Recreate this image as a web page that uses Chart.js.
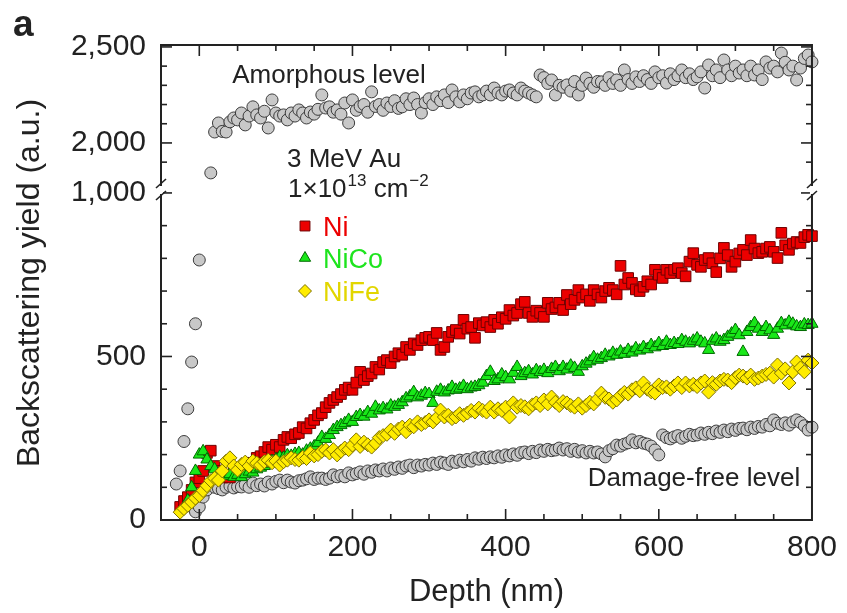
<!DOCTYPE html>
<html>
<head>
<meta charset="utf-8">
<title>RBS/C spectra</title>
<script src="https://cdn.jsdelivr.net/npm/chart.js@4.4.1/dist/chart.umd.min.js"></script>
<style>
  html, body { margin: 0; padding: 0; background: #fff; }
  #wrap { width: 847px; height: 613px; }
</style>
</head>
<body>
<div id="wrap"><canvas id="rbsChart"></canvas></div>
<script>
// depth channels in nm, 5 nm apart from -30 to 800
var depthStart = -30, depthStep = 5, depthEnd = 800;

// random (amorphous) spectrum; the surface edge sits on the lower axis
var randomYield = [
  110, 150, 240, 340, 483, 600, 795, null, null, 1844,
  2057, 2104, 2060, 2057, 2110, 2130, 2120, 2156, 2094, 2140,
  2188, 2146, 2130, 2165, 2078, 2224, 2156, 2140, 2146, 2120,
  2156, 2140, 2172, 2156, 2130, 2161, 2150, 2175, 2250, 2182,
  2188, 2160, 2172, 2150, 2208, 2104, 2224, 2170, 2190, 2200,
  2160, 2266, 2190, 2200, 2170, 2208, 2190, 2220, 2180, 2188,
  2230, 2200, 2234, 2200, 2156, 2210, 2230, 2200, 2240, 2220,
  2250, 2210, 2276, 2240, 2214, 2250, 2230, 2260, 2266, 2240,
  2250, 2270, 2250, 2286, 2260, 2250, 2270, 2276, 2260, 2250,
  2286, 2270, 2260, 2250, 2240, 2354, 2340, 2310, 2328, 2250,
  2300, 2290, 2302, 2270, 2320, 2250, 2300, 2338, 2310, 2290,
  2320, 2318, 2300, 2340, 2310, 2328, 2300, 2380, 2330, 2310,
  2344, 2320, 2350, 2330, 2310, 2370, 2340, 2350, 2312, 2360,
  2330, 2350, 2380, 2340, 2360, 2330, 2344, 2370, 2286, 2406,
  2350, 2380, 2340, 2432, 2380, 2350, 2400, 2364, 2380, 2350,
  2400, 2354, 2380, 2330, 2422, 2390, 2400, 2370, 2468, 2420,
  2380, 2400, 2328, 2390, 2440, 2458, 2422
];

// virgin crystal (damage-free level)
var virginYield = [
  null, null, null, null, null,
  25, 40, 70, 92, 108, 100, 96, 92, 100, 104,
  98, 102, 101, 108, 100, 113, 105, 110, 104, 116,
  110, 118, 122, 114, 122, 116, 113, 120, 122, 126,
  132, 124, 128, 128, 124, 128, 138, 132, 136, 132,
  144, 138, 142, 147, 140, 150, 146, 153, 150, 156,
  150, 159, 155, 162, 158, 165, 168, 160, 168, 165,
  170, 168, 174, 170, 177, 174, 170, 180, 176, 183,
  178, 185, 180, 190, 186, 192, 188, 193, 190, 196,
  192, 199, 196, 202, 198, 206, 208, 203, 210, 206,
  214, 210, 216, 212, 214, 220, 214, 218, 210, 216,
  208, 212, 205, 210, 205, 208, 202, 193, 212, 218,
  229, 226, 232, 236, 245, 236, 240, 235, 232, 226,
  214, 199, 260, 252, 248, 254, 258, 250, 256, 262,
  258, 260, 266, 262, 268, 264, 272, 268, 275, 270,
  278, 274, 280, 281, 276, 284, 280, 286, 284, 292,
  288, 306, 296, 292, 297, 290, 300, 306, 298, 288,
  275, 284
];

var niYield = [
  null,
  40, 58, 70, 92, 115, 128, 150, 205, 212, 165,
  150, 130, 135, 130, 145, 140, 155, 165, 175, 170,
  190, 195, 208, 223, 215, 230, 223, 245, 254, 250,
  262, 266, 284, 280, 296, 306, 320, 327, 345, 358,
  367, 376, 385, 398, 405, 398, 420, 453, 428, 440,
  448, 468, 460, 483, 489, 480, 500, 510, 505, 529,
  520, 540, 535, 550, 557, 560, 550, 572, 520, 529,
  560, 575, 581, 570, 612, 585, 590, 557, 602, 595,
  605, 590, 612, 600, 620, 615, 642, 625, 633, 660,
  667, 633, 621, 640, 633, 621, 664, 645, 650, 664,
  642, 688, 660, 673, 703, 680, 690, 670, 703, 690,
  680, 700, 710, 703, 690, 777, 720, 740, 725, 705,
  700, 713, 730, 720, 765, 750, 740, 765, 755, 765,
  770, 755, 745, 790, 816, 780, 774, 795, 801, 785,
  758, 800, 832, 810, 774, 790, 815, 826, 810, 856,
  830, 816, 820, 830, 835, 820, 801, 878, 840, 826,
  845, 850, 847, 865, 872, 868
];

var niCoYield = [
  null, null, null,
  60, 100, 150, 200, 210, 185, 165, 155, 140, 145,
  135, 140, 132, 138, 131, 140, 148, 145, 155, 160,
  165, 172, 180, 185, 193, 190, 198, 196, 202, 205,
  200, 212, 218, 225, 236, 254, 248, 260, 275, 284,
  290, 296, 306, 300, 315, 321, 316, 330, 325, 346,
  335, 342, 338, 350, 346, 352, 360, 372, 378, 391,
  375, 380, 388, 385, 358, 392, 398, 390, 396, 407,
  398, 402, 410, 400, 405, 407, 412, 420, 440, 453,
  425, 430, 445, 437, 430, 450, 468, 440, 449, 455,
  445, 458, 452, 459, 449, 462, 468, 455, 468, 460,
  472, 465, 453, 470, 478, 485, 498, 490, 495, 505,
  500, 511, 505, 515, 508, 520, 512, 525, 518, 529,
  522, 535, 528, 541, 532, 545, 535, 541, 538, 550,
  545, 540, 548, 555, 545, 540, 520, 548, 555, 545,
  550, 560, 570, 581, 565, 514, 575, 590, 602, 585,
  575, 590, 580, 566, 585, 602, 595, 606, 600, 592,
  590, 598, 596, 600
];

var niFeYield = [
  null,
  24, 35, 45, 55, 67, 75, 90, 105, 120, 128,
  122, 150, 180, 190, 165, 153, 170, 177, 165, 180,
  174, 168, 178, 183, 175, 180, 168, 178, 183, 190,
  185, 183, 192, 188, 205, 196, 200, 210, 214, 205,
  215, 199, 210, 220, 215, 229, 245, 225, 238, 230,
  223, 235, 252, 258, 262, 275, 265, 278, 284, 270,
  290, 285, 300, 292, 298, 306, 300, 312, 336, 315,
  320, 310, 315, 325, 320, 327, 335, 330, 342, 335,
  330, 345, 330, 340, 335, 345, 315, 358, 345, 350,
  346, 340, 352, 358, 350, 367, 355, 376, 360, 350,
  362, 358, 350, 345, 355, 342, 350, 360, 355, 370,
  388, 375, 370, 360, 367, 380, 390, 385, 398, 404,
  395, 419, 400, 392, 388, 413, 405, 407, 400, 410,
  419, 405, 419, 410, 415, 408, 419, 425, 391, 420,
  415, 425, 430, 428, 420, 435, 443, 440, 434, 443,
  430, 434, 440, 445, 449, 437, 474, 449, 462, 419,
  453, 483, 465, 453, 489, 480
];

// axis ticks and labels
var depthTicks = [0, 200, 400, 600, 800];
var lowYieldTicks = [0, 100, 200, 300, 400, 500, 600, 700, 800, 900, 1000];
var highYieldTicks = [1900, 2000, 2100, 2200, 2300, 2400, 2500];
var labelledYields = [0, 500, 1000, 2000, 2500];

var depth = [];
for (var d = depthStart; d <= depthEnd; d += depthStep) depth.push(d);

function toPoints(values, keep) {
  var pts = [];
  values.forEach(function (v, i) {
    if (v !== null && keep(v)) pts.push({ x: depth[i], y: v });
  });
  return pts;
}
function all() { return true; }

var FONT = '"Liberation Sans", Arial, Helvetica, sans-serif';
var INK = '#222';
Chart.defaults.font.family = FONT;
Chart.defaults.color = INK;

var grey = { backgroundColor: 'rgb(200,200,200)', borderColor: 'rgb(60,60,60)', pointStyle: 'circle', pointRadius: 6 };

function series(label, data, axis, style) {
  return Object.assign({
    label: label, data: data, yAxisID: axis, showLine: false,
    pointBorderWidth: 1, clip: false
  }, style);
}

// first dataset is drawn on top
var datasets = [
  series('NiFe', toPoints(niFeYield, all), 'yLow',
    { backgroundColor: 'rgb(255,236,0)', borderColor: 'rgb(125,112,0)', pointStyle: 'rectRot', pointRadius: 7 }),
  series('NiCo', toPoints(niCoYield, all), 'yLow',
    { backgroundColor: 'rgb(25,232,25)', borderColor: 'rgb(0,105,0)', pointStyle: 'triangle', pointRadius: 7 }),
  series('Ni', toPoints(niYield, all), 'yLow',
    { backgroundColor: 'rgb(236,0,0)', borderColor: 'rgb(110,0,0)', pointStyle: 'rect', pointRadius: 7.5 }),
  series('Virgin', toPoints(virginYield, all), 'yLow', grey),
  series('Random', toPoints(randomYield, function (v) { return v <= 1000; }), 'yLow', grey),
  series('Random', toPoints(randomYield, function (v) { return v > 1000; }), 'yHigh', grey)
];

function line(ctx, x1, y1, x2, y2) {
  ctx.beginPath();
  ctx.moveTo(x1, y1);
  ctx.lineTo(x2, y2);
  ctx.stroke();
}

// frame, inward ticks, axis breaks and the text inside the panel
var panelDecor = {
  id: 'panelDecor',
  afterDatasetsDraw: function (chart) {
    var ctx = chart.ctx, a = chart.chartArea;
    var xs = chart.scales.x, lo = chart.scales.yLow, hi = chart.scales.yHigh;
    var yb = lo.top;
    ctx.save();
    ctx.strokeStyle = INK;
    ctx.lineWidth = 2;
    ctx.strokeRect(a.left, a.top, a.right - a.left, a.bottom - a.top);

    ctx.lineWidth = 1.6;
    xs.ticks.forEach(function (t) {
      if (t.value <= xs.min || t.value >= xs.max) return;
      var px = xs.getPixelForValue(t.value);
      var len = t.value % 200 === 0 ? 11 : 6;
      line(ctx, px, a.bottom, px, a.bottom - len);
      line(ctx, px, a.top, px, a.top + len);
    });
    [lo, hi].forEach(function (s) {
      s.ticks.forEach(function (t) {
        if (t.value <= 0) return;
        var py = s.getPixelForValue(t.value);
        var len = t.value % 500 === 0 ? 11 : 6;
        line(ctx, a.left, py, a.left + len, py);
        line(ctx, a.right, py, a.right - len, py);
      });
    });

    // axis breaks on both vertical axes
    [a.left, a.right].forEach(function (x) {
      ctx.fillStyle = '#fff';
      ctx.fillRect(x - 2, yb - 4, 4, 8);
      ctx.lineWidth = 1.6;
      line(ctx, x - 5, yb - 2, x + 5, yb - 11);
      line(ctx, x - 5, yb + 10, x + 5, yb + 1);
    });

    ctx.fillStyle = INK;
    ctx.textBaseline = 'alphabetic';

    ctx.font = 'bold 37px ' + FONT;
    ctx.textAlign = 'left';
    ctx.fillText('a', 13, 36);

    ctx.save();
    ctx.translate(39, 283);
    ctx.rotate(-Math.PI / 2);
    ctx.textAlign = 'center';
    ctx.font = '32px ' + FONT;
    ctx.fillText('Backscattering yield (a.u.)', 0, 0);
    ctx.restore();

    ctx.font = '26px ' + FONT;
    ctx.textAlign = 'center';
    ctx.fillText('Amorphous level', 329, 83);
    ctx.fillText('Damage-free level', 694, 486);

    ctx.textAlign = 'left';
    ctx.fillText('3 MeV Au', 287, 167);
    var x = 288, base = 197;
    ctx.fillText('1\u00d710', x, base);
    x += ctx.measureText('1\u00d710').width;
    ctx.font = '17px ' + FONT;
    ctx.fillText('13', x + 1, base - 11);
    x += ctx.measureText('13').width + 1;
    ctx.font = '26px ' + FONT;
    ctx.fillText(' cm', x, base);
    x += ctx.measureText(' cm').width;
    ctx.font = '17px ' + FONT;
    ctx.fillText('\u22122', x + 1, base - 11);

    // legend
    var rows = [
      { ds: datasets[2], y: 226, color: 'rgb(236,0,0)' },
      { ds: datasets[1], y: 258, color: 'rgb(30,228,30)' },
      { ds: datasets[0], y: 291, color: 'rgb(226,214,0)' }
    ];
    ctx.font = '27px ' + FONT;
    rows.forEach(function (r) {
      ctx.fillStyle = r.ds.backgroundColor;
      ctx.strokeStyle = r.ds.borderColor;
      ctx.lineWidth = 1;
      Chart.helpers.drawPoint(ctx, { pointStyle: r.ds.pointStyle, radius: r.ds.pointRadius - 0.5, rotation: 0, borderWidth: 1 }, 305, r.y);
      ctx.fillStyle = r.color;
      ctx.fillText(r.ds.label, 323, r.y + 10);
    });
    ctx.restore();
  }
};

function yTicks(values) {
  return {
    autoSkip: false, padding: 15, font: { size: 30 }, color: INK,
    callback: function (v) { return labelledYields.indexOf(v) >= 0 ? v.toLocaleString('en-US') : ''; }
  };
}

new Chart(document.getElementById('rbsChart'), {
  type: 'scatter',
  data: { datasets: datasets },
  options: {
    responsive: true,
    maintainAspectRatio: false,
    animation: false,
    events: [],
    layout: { padding: { top: 45, right: 29, bottom: 0, left: 0 } },
    plugins: { legend: { display: false }, tooltip: { enabled: false } },
    scales: {
      x: {
        type: 'linear', position: 'bottom', min: -50, max: 800,
        afterBuildTicks: function (s) {
          var t = [];
          for (var v = -50; v <= 800; v += 50) t.push({ value: v });
          s.ticks = t;
        },
        ticks: {
          autoSkip: false, maxRotation: 0, padding: 10,
          font: { size: 30 }, color: INK,
          callback: function (v) { return depthTicks.indexOf(v) >= 0 ? String(v) : ''; }
        },
        grid: { display: false, drawTicks: false },
        border: { display: false },
        title: { display: true, text: 'Depth (nm)', font: { size: 31 }, color: INK, padding: { top: 0, bottom: 2 } },
        afterFit: function (s) { s.height = 93; }
      },
      yLow: {
        type: 'linear', position: 'left', stack: 'yield', stackWeight: 330,
        min: 0, max: 1009,
        afterBuildTicks: function (s) { s.ticks = lowYieldTicks.map(function (v) { return { value: v }; }); },
        ticks: yTicks(),
        grid: { display: false, drawTicks: false },
        border: { display: false },
        afterFit: function (s) { s.width = 161; }
      },
      yHigh: {
        type: 'linear', position: 'left', stack: 'yield', stackWeight: 145,
        min: 1755, max: 2510,
        afterBuildTicks: function (s) { s.ticks = highYieldTicks.map(function (v) { return { value: v }; }); },
        ticks: yTicks(),
        grid: { display: false, drawTicks: false },
        border: { display: false },
        afterFit: function (s) { s.width = 161; }
      }
    }
  },
  plugins: [panelDecor]
});
</script>
</body>
</html>
